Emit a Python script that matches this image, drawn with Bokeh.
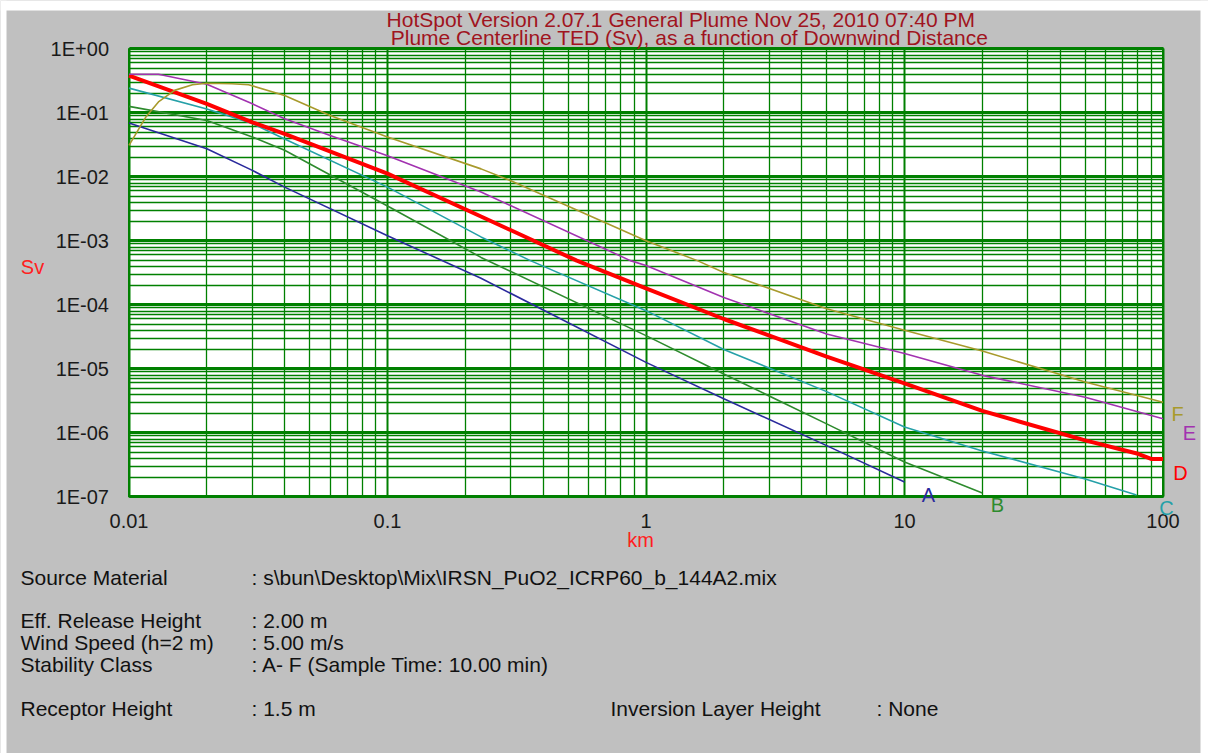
import math
from bokeh.plotting import figure
from bokeh.models import Range1d, FixedTicker, CustomJSTickFormatter, Label, BoxAnnotation
from bokeh.embed import file_html
from bokeh.resources import INLINE

# Plume centerline TED (Sv) against downwind distance (km), stability classes A-F
dist_a = [0.01, 0.02, 0.03, 0.04, 0.1, 0.23, 1, 2, 5, 10]
ted_a = [0.069, 0.0275, 0.0126, 6.9e-3, 1.2e-3, 2.6e-4, 1.26e-5, 3.4e-6, 6.3e-7, 1.7e-7]

dist_b = [0.01, 0.02, 0.03, 0.04, 0.1, 0.23, 1, 2, 5, 10, 20]
ted_b = [0.126, 0.076, 0.042, 0.026, 3.5e-3, 5.5e-4, 3.3e-5, 8.3e-6, 1.38e-6, 3.5e-7, 1.15e-7]

dist_c = [0.01, 0.02, 0.03, 0.04, 0.1, 0.23, 0.357, 1, 2, 5, 10, 20, 50, 79]
ted_c = [0.243, 0.115, 0.068, 0.039, 6.9e-3, 1.15e-3, 4.9e-4, 8.1e-5, 2.0e-5, 4.4e-6, 1.23e-6, 5.2e-7, 1.9e-7, 1.07e-7]

dist_d = [0.01, 0.02, 0.03, 0.04, 0.1, 0.23, 0.54, 1, 2, 5, 10, 20, 50, 80, 90, 100]
ted_d = [0.38, 0.138, 0.071, 0.047, 0.0112, 2.4e-3, 4.9e-4, 1.8e-4, 6.0e-5, 1.55e-5, 5.9e-6, 2.2e-6, 7.6e-7, 4.7e-7, 3.9e-7, 3.9e-7]

dist_e = [0.01, 0.013, 0.02, 0.03, 0.04, 0.06, 0.1, 0.23, 0.87, 1, 2, 5, 10, 20, 50, 100]
ted_e = [0.40, 0.40, 0.28, 0.138, 0.081, 0.044, 0.0214, 5.8e-3, 4.9e-4, 4.1e-4, 1.3e-4, 3.5e-5, 1.74e-5, 7.9e-6, 3.6e-6, 1.66e-6]

dist_f = [0.01, 0.0116, 0.013, 0.015, 0.0176, 0.02, 0.025, 0.029, 0.04, 0.06, 0.1, 0.23, 0.3, 1, 1.58, 2, 5, 10, 20, 50, 100]
ted_f = [0.031, 0.085, 0.148, 0.224, 0.275, 0.29, 0.285, 0.275, 0.186, 0.091, 0.042, 0.0133, 8.7e-3, 1.0e-3, 4.9e-4, 3.2e-4, 8.7e-5, 4.0e-5, 1.9e-5, 6.2e-6, 3.0e-6]

classes = ["A", "B", "C", "D", "E", "F"]
x_decades = [0.01, 0.1, 1, 10, 100]
y_decades = [1e-7, 1e-6, 1e-5, 1e-4, 1e-3, 1e-2, 1e-1, 1]

title_lines = [
    "HotSpot  Version 2.07.1  General Plume  Nov 25, 2010 07:40 PM",
    "Plume Centerline TED (Sv), as a function of Downwind Distance",
]
info_rows = [
    ("Source Material", ": s\\bun\\Desktop\\Mix\\IRSN_PuO2_ICRP60_b_144A2.mix"),
    ("Eff. Release Height", ": 2.00 m"),
    ("Wind Speed (h=2 m)", ": 5.00 m/s"),
    ("Stability Class", ": A- F (Sample Time: 10.00 min)"),
    ("Receptor Height", ": 1.5 m"),
]
extra_row = ("Inversion Layer Height", ": None")

series = {
    "A": (dist_a, ted_a), "B": (dist_b, ted_b), "C": (dist_c, ted_c),
    "D": (dist_d, ted_d), "E": (dist_e, ted_e), "F": (dist_f, ted_f),
}
colors = {"A": "#2A2A9C", "B": "#2E8B2E", "C": "#25A0A8",
          "D": "#FF0000", "E": "#A232B0", "F": "#A89A2C"}
widths = {"A": 1.6, "B": 1.6, "C": 1.6, "D": 4, "E": 1.6, "F": 1.6}

GREEN = "#008000"
GRAY = "#C0C0C0"
FONT = "Liberation Sans"

# canvas = whole page; gray window inset by a thin white margin
CANVAS_W, CANVAS_H = 1208, 753
WIN_LEFT, WIN_TOP, WIN_RIGHT = 6, 10, 1200
BOX_LEFT, BOX_TOP = 128.5, 48.3
DEC_X, DEC_Y = 258.5, 64.0          # pixels per decade
nx = math.log10(x_decades[-1] / x_decades[0])
ny = math.log10(y_decades[-1] / y_decades[0])
box_w, box_h = nx * DEC_X, ny * DEC_Y

x_lo = x_decades[0] * 10 ** (-BOX_LEFT / DEC_X)
x_hi = x_decades[-1] * 10 ** ((CANVAS_W - BOX_LEFT - box_w) / DEC_X)
y_hi = y_decades[-1] * 10 ** (BOX_TOP / DEC_Y)
y_lo = y_decades[0] * 10 ** (-(CANVAS_H - BOX_TOP - box_h) / DEC_Y)

p = figure(
    x_axis_type="log", y_axis_type="log",
    x_range=Range1d(x_lo, x_hi), y_range=Range1d(y_lo, y_hi),
    width=CANVAS_W, height=CANVAS_H, min_border=0,
    title=None, toolbar_location=None, output_backend="svg",
)
p.background_fill_color = GRAY
p.border_fill_color = GRAY
p.outline_line_color = None


def screen_band(left, right, top, bottom):
    p.add_layout(BoxAnnotation(
        left=left, right=right, top=CANVAS_H - top, bottom=CANVAS_H - bottom,
        left_units="screen", right_units="screen", top_units="screen", bottom_units="screen",
        fill_color="white", fill_alpha=1, line_color=None, level="image", editable=False,
    ))


# white margin around the gray window
screen_band(0, CANVAS_W, 0, WIN_TOP)
screen_band(0, WIN_LEFT, 0, CANVAS_H)
screen_band(WIN_RIGHT, CANVAS_W, 0, CANVAS_H)

# white plotting box with green frame
p.add_layout(BoxAnnotation(
    left=x_decades[0], right=x_decades[-1], bottom=y_decades[0], top=y_decades[-1],
    fill_color="white", fill_alpha=1, line_color=GREEN, line_width=2, line_alpha=1,
    level="image", editable=False,
))


def minors(decades):
    out = []
    for d in decades[:-1]:
        out += [m * d for m in range(2, 10)]
    return out


p.xaxis.ticker = FixedTicker(ticks=x_decades, minor_ticks=minors(x_decades))
p.yaxis.ticker = FixedTicker(ticks=y_decades, minor_ticks=minors(y_decades))
p.xaxis.formatter = CustomJSTickFormatter(code="""
    const e = Math.round(Math.log10(tick));
    return e >= 0 ? String(Math.pow(10, e)) : tick.toFixed(-e);
""")
p.yaxis.formatter = CustomJSTickFormatter(code="""
    const e = Math.round(Math.log10(tick));
    const s = e < 0 ? "-" : "+";
    return "1E" + s + String(Math.abs(e)).padStart(2, "0");
""")
p.xaxis.fixed_location = y_decades[0]
p.yaxis.fixed_location = x_decades[0]
for ax in (p.xaxis, p.yaxis):
    ax.axis_line_color = None
    ax.major_tick_line_color = None
    ax.minor_tick_line_color = None
    ax.major_tick_out = 0
    ax.major_tick_in = 0
    ax.minor_tick_out = 0
    ax.minor_tick_in = 0
    ax.major_label_text_font = FONT
    ax.major_label_text_font_size = "20px"
    ax.major_label_text_color = "#1A1A1A"
p.yaxis.major_label_standoff = 20
p.xaxis.major_label_standoff = 17

p.xgrid.bounds = (x_decades[0], x_decades[-1])
p.xgrid.cross_bounds = (y_decades[0], y_decades[-1])
p.ygrid.bounds = (y_decades[0], y_decades[-1])
p.ygrid.cross_bounds = (x_decades[0], x_decades[-1])
p.xgrid.grid_line_color = GREEN
p.xgrid.grid_line_width = 2
p.xgrid.minor_grid_line_color = GREEN
p.xgrid.minor_grid_line_width = 1.3
p.ygrid.grid_line_color = GREEN
p.ygrid.grid_line_width = 3
p.ygrid.minor_grid_line_color = GREEN
p.ygrid.minor_grid_line_width = 1.3

for k in classes:
    xs, ys = series[k]
    p.line(xs, ys, line_color=colors[k], line_width=widths[k])


def page_label(px, py, text, color="#111111", size="21px", align="left"):
    p.add_layout(Label(
        x=px, y=CANVAS_H - py,
        x_units="screen", y_units="screen", text=text,
        text_font=FONT, text_font_size=size, text_color=color,
        text_align=align, text_baseline="middle",
    ))


# title
page_label(689, 19, title_lines[0], color="#A0141E", size="21px", align="center")
page_label(689, 37, title_lines[1], color="#A0141E", size="21px", align="center")

# axis names
page_label(32, 266, "Sv", color="#FF2020", size="20px", align="center")
page_label(640, 539, "km", color="#FF2020", size="20px", align="center")

# class tags at the line ends
tag_pos = {"A": (928, 494), "B": (997, 504), "C": (1166, 507),
           "D": (1180, 472), "E": (1189, 432), "F": (1177, 413)}
for k in classes:
    x, y = tag_pos[k]
    page_label(x, y, k, color=colors[k], size="20px", align="center")

# release parameters
row_y = [577, 620, 642, 664, 708]
for (name, val), y in zip(info_rows, row_y):
    page_label(20, y, name)
    page_label(251, y, val)
page_label(610, 708, extra_row[0])
page_label(876, 708, extra_row[1])

open("out.html", "w").write(file_html(p, INLINE))
